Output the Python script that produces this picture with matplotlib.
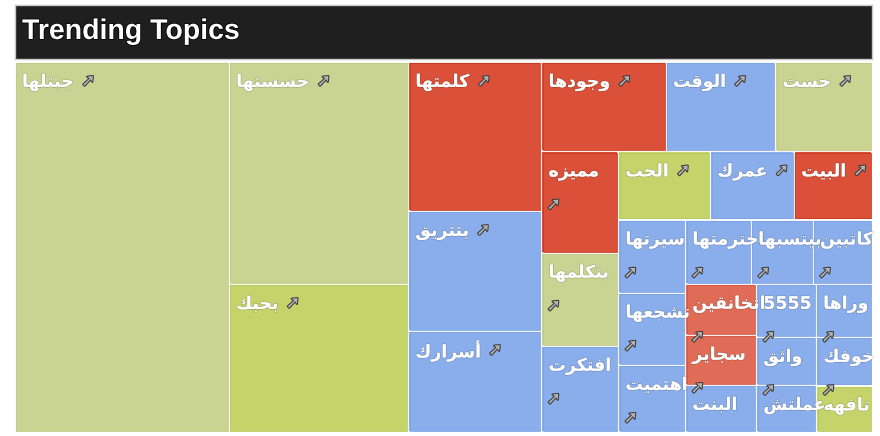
import matplotlib
matplotlib.use("Agg")
import matplotlib.pyplot as plt
from matplotlib.patches import Rectangle
import matplotlib.patheffects as pe

# ---------------- data ----------------
topics = ["جبتلها", "حسستها", "بحبك", "كلمتها", "بتتريق", "أسرارك",
          "وجودها", "الوقت", "حست", "مميزه", "بتكلمها", "افتكرت",
          "الحب", "عمرك", "البيت", "سيرتها", "تشجعها", "اهتميت",
          "احترمتها", "بيتسبها", "كاتبين", "اتخانقين", "سجاير", "البنت",
          "5555", "وراها", "واثق", "عملتش", "خوفك", "تافهه"]
volumes = [7918, 3974, 2649, 1982, 1596, 1343,
           1113, 979, 863, 778, 716, 662,
           626, 571, 530, 489, 482, 449,
           422, 397, 378, 362, 355, 334,
           318, 297, 288, 282, 269, 258]
tones = ["olive", "olive", "lime", "red", "blue", "blue",
         "red", "blue", "olive", "red", "olive", "blue",
         "lime", "blue", "red", "blue", "blue", "blue",
         "blue", "blue", "blue", "salmon", "salmon", "blue",
         "blue", "blue", "blue", "blue", "blue", "lime"]
title = "Trending Topics"

palette = {"olive": "#c9d392", "lime": "#c4d46b", "red": "#da5038",
           "salmon": "#e06c57", "blue": "#8aaeec"}
edge_tint = {"olive": "#bfca86", "lime": "#b9ca5f", "red": "#c9391f",
             "salmon": "#d45a44", "blue": "#7fa3e2"}

# ---------------- arabic contextual shaping ----------------
AR = {
    'ء': (0xFE80, 'U'), 'آ': (0xFE81, 'R'), 'أ': (0xFE83, 'R'), 'ؤ': (0xFE85, 'R'),
    'إ': (0xFE87, 'R'), 'ئ': (0xFE89, 'D'), 'ا': (0xFE8D, 'R'), 'ب': (0xFE8F, 'D'),
    'ة': (0xFE93, 'R'), 'ت': (0xFE95, 'D'), 'ث': (0xFE99, 'D'), 'ج': (0xFE9D, 'D'),
    'ح': (0xFEA1, 'D'), 'خ': (0xFEA5, 'D'), 'د': (0xFEA9, 'R'), 'ذ': (0xFEAB, 'R'),
    'ر': (0xFEAD, 'R'), 'ز': (0xFEAF, 'R'), 'س': (0xFEB1, 'D'), 'ش': (0xFEB5, 'D'),
    'ص': (0xFEB9, 'D'), 'ض': (0xFEBD, 'D'), 'ط': (0xFEC1, 'D'), 'ظ': (0xFEC5, 'D'),
    'ع': (0xFEC9, 'D'), 'غ': (0xFECD, 'D'), 'ف': (0xFED1, 'D'), 'ق': (0xFED5, 'D'),
    'ك': (0xFED9, 'D'), 'ل': (0xFEDD, 'D'), 'م': (0xFEE1, 'D'), 'ن': (0xFEE5, 'D'),
    'ه': (0xFEE9, 'D'), 'و': (0xFEED, 'R'), 'ى': (0xFEEF, 'R'), 'ي': (0xFEF1, 'D'),
}
LAM_ALEF = {'ا': 0xFEFB, 'أ': 0xFEF7, 'إ': 0xFEF9, 'آ': 0xFEF5}


def shape(s):
    units = []
    i = 0
    while i < len(s):
        c = s[i]
        if c == 'ل' and i + 1 < len(s) and s[i + 1] in LAM_ALEF:
            units.append((LAM_ALEF[s[i + 1]], 'R'))
            i += 2
            continue
        if c in AR:
            units.append(AR[c])
        else:
            units.append((ord(c), None))
        i += 1
    if all(t is None for _, t in units):
        return s
    out = []
    for k, (base, t) in enumerate(units):
        if t is None:
            out.append(chr(base))
            continue
        jp = k > 0 and units[k - 1][1] == 'D' and t in ('D', 'R')
        jn = t == 'D' and k + 1 < len(units) and units[k + 1][1] in ('D', 'R')
        if t == 'D':
            off = 3 if (jp and jn) else 1 if jp else 2 if jn else 0
        elif t == 'R':
            off = 1 if jp else 0
        else:
            off = 0
        out.append(chr(base + off))
    return "".join(reversed(out))


# ---------------- squarified treemap ----------------
def squarify(vals, x, y, w, h):
    total = float(sum(vals))
    areas = [v * w * h / total for v in vals]

    def worst(row, side):
        s = sum(row)
        return max(max(side * side * a / (s * s), s * s / (side * side * a)) for a in row)

    rects = []
    i = 0
    while i < len(areas):
        side = min(w, h)
        row = [areas[i]]
        j = i + 1
        while j < len(areas) and worst(row + [areas[j]], side) <= worst(row, side):
            row.append(areas[j])
            j += 1
        s = sum(row)
        if w >= h:
            cw = s / h
            yy = y
            for a in row:
                rects.append((x, yy, cw, a / cw))
                yy += a / cw
            x += cw
            w -= cw
        else:
            rh = s / w
            xx = x
            for a in row:
                rects.append((xx, y, a / rh, rh))
                xx += a / rh
            y += rh
            h -= rh
        i = j
    return rects


# ---------------- figure ----------------
DPI = 100
FW, FH = 880, 436
fig = plt.figure(figsize=(FW / DPI, FH / DPI), dpi=DPI, facecolor="white")

# title bar
tax = fig.add_axes([15 / FW, 1 - 59 / FH, 857 / FW, 54 / FH])
tax.set_facecolor("#1f1f1f")
tax.set_xticks([]); tax.set_yticks([])
for sp in tax.spines.values():
    sp.set_color("#c8c8c8"); sp.set_linewidth(1.0)
tax.text(7 / 857, 0.5, title, transform=tax.transAxes, ha="left", va="center",
         color="white", fontsize=20.5, fontweight="bold", family="Liberation Sans",
         path_effects=[pe.withStroke(linewidth=1.2, foreground="#000000")])

# treemap
ax_box = [15 / FW, 1 - 432 / FH, 857 / FW, 370 / FH]
ax = fig.add_axes(ax_box)
W = ax_box[2] * FW
H = ax_box[3] * FH
ax.set_xlim(0, W)
ax.set_ylim(H, 0)
ax.axis("off")

rects = squarify(volumes, 0, 0, W, H)
renderer = fig.canvas.get_renderer()

label_fp = dict(fontsize=12.5, fontweight="bold", family="DejaVu Sans")
shadow = [pe.withStroke(linewidth=1.0, foreground=(0, 0, 0, 0.18))]
arrow_fx = [pe.withStroke(linewidth=1.5, foreground="#3a3a3a")]
ARROW_W = 15
GAP = 7

arrows = []
for (x, y, w, h), name, tone in zip(rects, topics, tones):
    cell = Rectangle((x, y), w, h, facecolor=palette[tone], edgecolor="white",
                     linewidth=1.3, zorder=1)
    ax.add_patch(cell)
    inner = Rectangle((x + 1.2, y + 1.2), w - 2.4, h - 2.4, facecolor="none",
                      edgecolor=edge_tint[tone], linewidth=0.6, zorder=1.5)
    ax.add_patch(inner)
    t = ax.text(x + 7, y + 20, shape(name), ha="left", va="center", color="white",
                zorder=3, path_effects=shadow, **label_fp)
    t.set_clip_path(cell)
    tw = t.get_window_extent(renderer).width  # pixels == data units here
    if 7 + tw + GAP + ARROW_W <= w:
        arrows.append((x + 7 + tw + GAP, y + 19))
    else:
        arrows.append((x + 5, y + 53))

for px, py in arrows:
    if py + 8 > H:
        continue  # would fall outside the treemap area
    ax.text(px, py, "➚", ha="left", va="center", color="#b4b4b4", fontsize=12.5,
            family="DejaVu Sans", zorder=5, path_effects=arrow_fx, clip_on=False)

fig.savefig("out.png", dpi=DPI, facecolor="white")
